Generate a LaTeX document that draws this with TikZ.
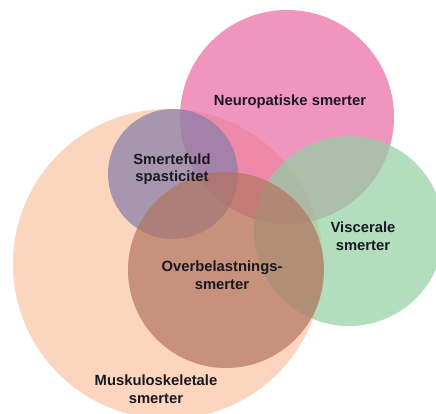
\documentclass[tikz,border=0pt]{standalone}
\usepackage{fontspec}
\setmainfont{Liberation Sans}
\usepackage{xcolor}
\definecolor{peach}{RGB}{249,195,162}
\definecolor{neuro}{RGB}{234,105,162}
\definecolor{visc}{RGB}{145,208,162}
\definecolor{spast}{RGB}{132,126,168}
\definecolor{overb}{RGB}{178,116,97}
\definecolor{ink}{RGB}{25,25,35}

\begin{document}
\begin{tikzpicture}[x=1pt, y=-1pt, set/.style = {fill opacity=0.7}, lbl/.style = {font=\bfseries\fontsize{14.8}{17.5}\selectfont, text=ink, align=center}]
            \useasboundingbox (0,0) rectangle (436,414);
            \clip (0,0) rectangle (436,414);

            \fill[set, peach] (168,264) circle[radius=155pt];
            \fill[set, neuro] (287,117) circle[radius=107pt];
            \fill[set, visc] (349,231) circle[radius=95pt];
            \fill[set, spast] (173,174) circle[radius=65pt];
            \fill[set, overb] (226,270) circle[radius=98pt];

            \node[lbl] (neuro) at (290,102) {Neuropatiske smerter};
            \node[lbl] (spast) at (172,169) {Smertefuld\\spasticitet};
            \node[lbl] (visc) at (363,236) {Viscerale\\smerter};
            \node[lbl] (overb) at (222,275) {Overbelastnings-\\smerter};
            \node[lbl] (musk) at (156,389) {Muskuloskeletale\\smerter};
        \end{tikzpicture}
\end{document}
